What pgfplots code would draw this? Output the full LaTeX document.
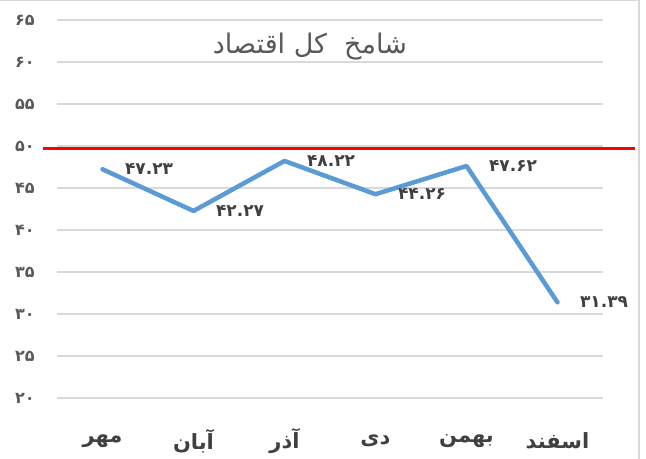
\documentclass[border=0pt]{standalone}
\usepackage{fontspec}
\usepackage{pgfplots}
\pgfplotsset{compat=1.18}
\setmainfont{DejaVu Sans}
\newfontfamily\fa[Script=Arabic]{DejaVu Sans}
\newfontfamily\fadig{DejaVu Sans}
\TeXXeTstate=1
\definecolor{lineblue}{HTML}{5B9BD5}
\definecolor{gridgray}{HTML}{D9D9D9}
\definecolor{txtgray}{HTML}{595959}
\definecolor{txtdark}{HTML}{404040}
\begin{document}
\begin{tikzpicture}
\useasboundingbox (-57bp,-61bp) rectangle (589bp,398bp);
\draw[gridgray, line width=1.5bp] (-57bp,397.5bp) -- (582bp,397.5bp) -- (582bp,-61bp);
\begin{axis}[
  at={(0,0)}, anchor=south west,
  scale only axis, width=546bp, height=378bp,
  xmin=-0.5, xmax=5.5, ymin=20, ymax=65,
  ytick={20,25,...,65},
  yticklabels={۲۰,۲۵,۳۰,۳۵,۴۰,۴۵,۵۰,۵۵,۶۰,۶۵},
  yticklabel style={font=\fadig\bfseries\fontsize{16bp}{18bp}\selectfont, text=txtgray, anchor=center, xshift=-32bp},
  xtick={0,1,2,3,4,5},
  xticklabels={{\fa\beginR مهر\endR},{\fa\beginR آبان\endR},{\fa\beginR آذر\endR},{\fa\beginR دی\endR},{\fa\beginR بهمن\endR},{\fa\beginR اسفند\endR}},
  xticklabel style={font=\fa\bfseries\fontsize{21bp}{24bp}\selectfont, text=txtdark, anchor=center, yshift=-43bp},
  axis line style={draw=none},
  major tick length=0pt,
  ymajorgrids,
  grid style={draw=gridgray, line width=1.5bp},
  clip=false,
  nodes near coords,
  point meta=explicit symbolic,
  every node near coord/.append style={anchor=west, xshift=17bp, yshift=0bp, font=\fadig\bfseries\fontsize{17bp}{19bp}\selectfont, text=txtdark},
]
\addplot[red, line width=3bp, nodes near coords=] coordinates {(-0.654,49.65) (5.85,49.65)};
\addplot[lineblue, line width=4.5bp, line join=round, line cap=round] coordinates {
(0,47.23) [۴۷.۲۳]
(1,42.27) [۴۲.۲۷]
(2,48.22) [۴۸.۲۲]
(3,44.26) [۴۴.۲۶]
(4,47.62) [۴۷.۶۲]
(5,31.39) [۳۱.۳۹]
};
\node[font=\fa\fontsize{27bp}{30bp}\selectfont, text=txtgray] at (axis cs:2.28,61.8) {\beginR شامخ\ \ کل اقتصاد\endR};
\end{axis}
\end{tikzpicture}
\end{document}
